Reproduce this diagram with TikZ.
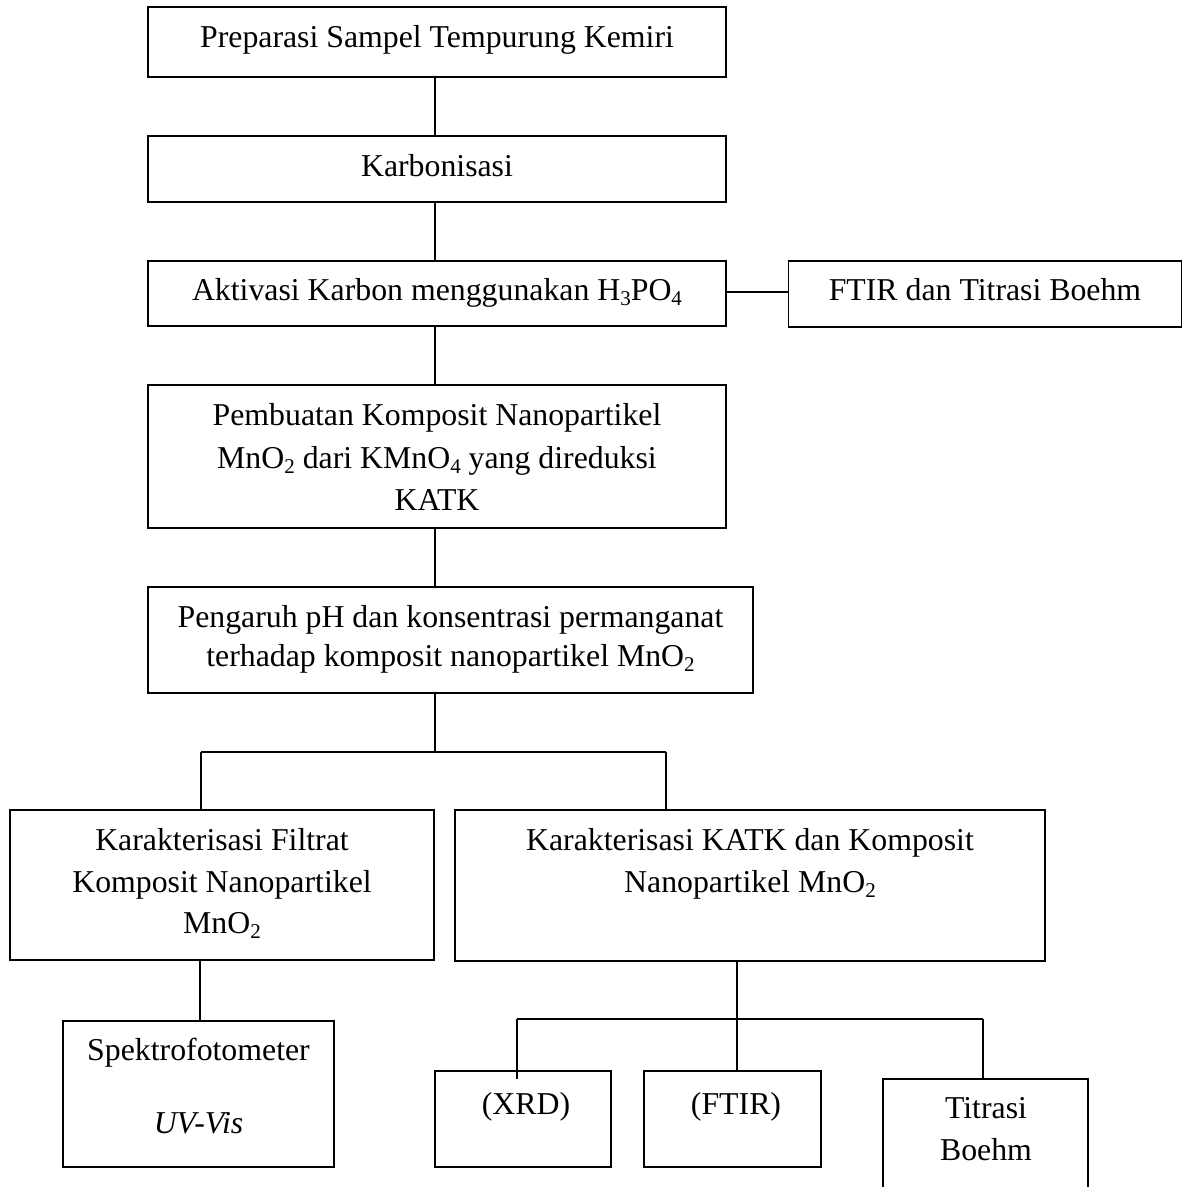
\documentclass[tikz,border=0pt]{standalone}
\usepackage{fontspec}
\setmainfont{Liberation Serif}
\newcommand\chsub[1]{\raisebox{-0.16em}{\fontsize{21}{21}\selectfont #1}}
\begin{document}
\begin{tikzpicture}[x=1pt,y=-1pt,
  box/.style={draw, line width=1.6pt, rectangle, inner sep=0pt},
  txt/.style={anchor=base, inner sep=0pt, font=\fontsize{31.8}{38}\selectfont},
  conn/.style={draw, line width=1.2pt}]
\useasboundingbox (0,0) rectangle (1183,1187);
\clip (0,0) rectangle (1183,1187);
% boxes
\node[box, minimum width=578pt, minimum height=70pt]  (b1)  at (437,42) {};
\node[box, minimum width=578pt, minimum height=66pt]  (b2)  at (437,169) {};
\node[box, minimum width=578pt, minimum height=65pt]  (b3)  at (437,293.5) {};
\node[box, minimum width=393pt, minimum height=66pt]  (b4)  at (985,294) {};
\node[box, minimum width=578pt, minimum height=143pt] (b5)  at (437,456.5) {};
\node[box, minimum width=605pt, minimum height=106pt] (b6)  at (450.5,640) {};
\node[box, minimum width=424pt, minimum height=150pt] (b7)  at (222,885) {};
\node[box, minimum width=590pt, minimum height=151pt] (b8)  at (750,885.5) {};
\node[box, minimum width=271pt, minimum height=146pt] (b9)  at (198.5,1094) {};
\node[box, minimum width=176pt, minimum height=96pt]  (b10) at (523,1119) {};
\node[box, minimum width=177pt, minimum height=96pt]  (b11) at (732.5,1119) {};
\node[box, minimum width=205pt, minimum height=121pt] (b12) at (985.5,1139.5) {};
% texts
\node[txt] (t1) at (437,47) {Preparasi Sampel Tempurung Kemiri};
\node[txt] (t2) at (437,176) {Karbonisasi};
\node[txt] (t3) at (437,300) {Aktivasi Karbon menggunakan H\chsub{3}PO\chsub{4}};
\node[txt] (t4) at (985,300) {FTIR dan Titrasi Boehm};
\node[txt] (t5a) at (437,425) {Pembuatan Komposit Nanopartikel};
\node[txt] (t5b) at (437,468) {MnO\chsub{2} dari KMnO\chsub{4} yang direduksi};
\node[txt] (t5c) at (437,510) {KATK};
\node[txt] (t6a) at (450.5,627) {Pengaruh pH dan konsentrasi permanganat};
\node[txt] (t6b) at (450.5,666) {terhadap komposit nanopartikel MnO\chsub{2}};
\node[txt] (t7a) at (222,850) {Karakterisasi Filtrat};
\node[txt] (t7b) at (222,892) {Komposit Nanopartikel};
\node[txt] (t7c) at (222,933) {MnO\chsub{2}};
\node[txt] (t8a) at (750,850) {Karakterisasi KATK dan Komposit};
\node[txt] (t8b) at (750,892) {Nanopartikel MnO\chsub{2}};
\node[txt] (t9a) at (198.5,1060) {Spektrofotometer};
\node[txt] (t9b) at (198.5,1133) {\itshape UV-Vis};
\node[txt] (t10) at (526,1114) {(XRD)};
\node[txt] (t11) at (736,1114) {(FTIR)};
\node[txt] (t12a) at (986,1118) {Titrasi};
\node[txt] (t12b) at (986,1160) {Boehm};
% junction coordinates
\coordinate (j1) at (435,752);
\coordinate (jl) at (201,752);
\coordinate (jr) at (666,752);
\coordinate (k)  at (737,1019);
\coordinate (kl) at (517,1019);
\coordinate (kr) at (983,1019);
\coordinate (xe) at (517,1079);
\coordinate (h)  at (0,292);
% connectors
\draw[conn] (b1.south -| j1) -- (b2.north -| j1);
\draw[conn] (b2.south -| j1) -- (b3.north -| j1);
\draw[conn] (b3.east |- h) -- (b4.west |- h);
\draw[conn] (b3.south -| j1) -- (b5.north -| j1);
\draw[conn] (b5.south -| j1) -- (b6.north -| j1);
\draw[conn] (b6.south -| j1) -- (j1);
\draw[conn] (jl) -- (jr);
\draw[conn] (jl) -- (jl |- b7.north);
\draw[conn] (jr) -- (jr |- b8.north);
\draw[conn] ([xshift=1.5pt]b9.north |- b7.south) -- ([xshift=1.5pt]b9.north);
\draw[conn] (b8.south -| k) -- (k);
\draw[conn, line width=1.6pt] (kl) -- (kr);
\draw[conn] (kl) -- (xe);
\draw[conn] (k) -- (k |- b11.north);
\draw[conn] (kr) -- (kr |- b12.north);
\end{tikzpicture}
\end{document}
